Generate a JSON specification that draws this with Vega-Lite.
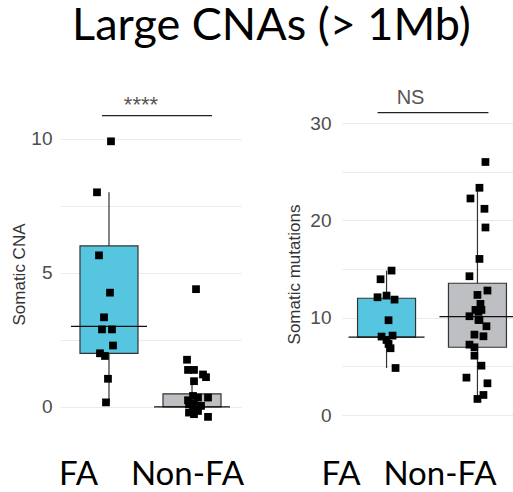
{
  "$schema": "https://vega.github.io/schema/vega-lite/v6.json",
  "padding": {"left": 10, "top": 3, "right": 0, "bottom": 0},
  "background": "white",
  "title": {"text": "Large CNAs (> 1Mb)", "font": "Lato", "fontSize": 45, "fontWeight": "normal", "color": "#000000", "anchor": "middle", "dx": 5, "offset": 39},
  "datasets": {
    "left_pts": [
      {"group": "FA", "value": 9.9, "jitter": 2},
      {"group": "FA", "value": 8.0, "jitter": -12},
      {"group": "FA", "value": 5.65, "jitter": -10},
      {"group": "FA", "value": 4.26, "jitter": 1},
      {"group": "FA", "value": 3.34, "jitter": -5},
      {"group": "FA", "value": 2.89, "jitter": -7},
      {"group": "FA", "value": 2.89, "jitter": 3},
      {"group": "FA", "value": 2.29, "jitter": 4},
      {"group": "FA", "value": 2.0, "jitter": -9},
      {"group": "FA", "value": 1.9, "jitter": -4},
      {"group": "FA", "value": 1.05, "jitter": -1},
      {"group": "FA", "value": 0.17, "jitter": -3},
      {"group": "Non-FA", "value": 4.39, "jitter": 4},
      {"group": "Non-FA", "value": 1.76, "jitter": -5},
      {"group": "Non-FA", "value": 1.38, "jitter": -4},
      {"group": "Non-FA", "value": 1.38, "jitter": 2},
      {"group": "Non-FA", "value": 1.21, "jitter": 11},
      {"group": "Non-FA", "value": 1.11, "jitter": 14},
      {"group": "Non-FA", "value": 0.96, "jitter": 2},
      {"group": "Non-FA", "value": 0.25, "jitter": -4},
      {"group": "Non-FA", "value": 0.41, "jitter": 1},
      {"group": "Non-FA", "value": 0.35, "jitter": 6},
      {"group": "Non-FA", "value": 0.35, "jitter": 16},
      {"group": "Non-FA", "value": 0.1, "jitter": -3},
      {"group": "Non-FA", "value": 0.12, "jitter": 2},
      {"group": "Non-FA", "value": 0.04, "jitter": 9},
      {"group": "Non-FA", "value": -0.08, "jitter": 1},
      {"group": "Non-FA", "value": -0.15, "jitter": 6},
      {"group": "Non-FA", "value": -0.21, "jitter": -3},
      {"group": "Non-FA", "value": -0.27, "jitter": 2},
      {"group": "Non-FA", "value": -0.37, "jitter": 16}
    ],
    "left_box": [
      {"group": "FA", "lower": 0.17, "q1": 2.0, "median": 3.0, "q3": 6.0, "upper": 8.0},
      {"group": "Non-FA", "lower": 0.0, "q1": 0.0, "median": 0.0, "q3": 0.49, "upper": 0.97}
    ],
    "left_sig": [
      {"group": "FA", "group_end": "Non-FA", "y": 10.86, "ty": 11.27, "label": "****"}
    ],
    "right_pts": [
      {"group": "FA", "value": 14.84, "jitter": 5},
      {"group": "FA", "value": 13.95, "jitter": -6},
      {"group": "FA", "value": 12.1, "jitter": -9},
      {"group": "FA", "value": 12.27, "jitter": 0},
      {"group": "FA", "value": 11.86, "jitter": 8},
      {"group": "FA", "value": 9.74, "jitter": 2},
      {"group": "FA", "value": 8.06, "jitter": -5},
      {"group": "FA", "value": 8.16, "jitter": 6},
      {"group": "FA", "value": 7.71, "jitter": 0},
      {"group": "FA", "value": 7.3, "jitter": 2},
      {"group": "FA", "value": 6.86, "jitter": 4},
      {"group": "FA", "value": 4.83, "jitter": 9},
      {"group": "Non-FA", "value": 26.0, "jitter": 8},
      {"group": "Non-FA", "value": 23.35, "jitter": 2},
      {"group": "Non-FA", "value": 22.25, "jitter": -7},
      {"group": "Non-FA", "value": 21.19, "jitter": 7},
      {"group": "Non-FA", "value": 19.27, "jitter": 8},
      {"group": "Non-FA", "value": 16.04, "jitter": 2},
      {"group": "Non-FA", "value": 14.26, "jitter": -8},
      {"group": "Non-FA", "value": 12.79, "jitter": 10},
      {"group": "Non-FA", "value": 12.34, "jitter": 0},
      {"group": "Non-FA", "value": 11.42, "jitter": 3},
      {"group": "Non-FA", "value": 10.8, "jitter": -2},
      {"group": "Non-FA", "value": 10.8, "jitter": 4},
      {"group": "Non-FA", "value": 10.6, "jitter": 1},
      {"group": "Non-FA", "value": 10.15, "jitter": -8},
      {"group": "Non-FA", "value": 9.77, "jitter": 1},
      {"group": "Non-FA", "value": 9.77, "jitter": 2},
      {"group": "Non-FA", "value": 9.12, "jitter": 9},
      {"group": "Non-FA", "value": 8.26, "jitter": -3},
      {"group": "Non-FA", "value": 8.09, "jitter": 6},
      {"group": "Non-FA", "value": 7.23, "jitter": -8},
      {"group": "Non-FA", "value": 6.96, "jitter": -3},
      {"group": "Non-FA", "value": 6.1, "jitter": -3},
      {"group": "Non-FA", "value": 5.07, "jitter": 4},
      {"group": "Non-FA", "value": 3.84, "jitter": -11},
      {"group": "Non-FA", "value": 3.26, "jitter": 10},
      {"group": "Non-FA", "value": 2.06, "jitter": 6},
      {"group": "Non-FA", "value": 1.65, "jitter": 0}
    ],
    "right_box": [
      {"group": "FA", "lower": 4.83, "q1": 8.0, "median": 8.0, "q3": 12.0, "upper": 14.84},
      {"group": "Non-FA", "lower": 1.65, "q1": 6.96, "median": 10.1, "q3": 13.54, "upper": 23.35}
    ],
    "right_sig": [
      {"group": "FA", "group_end": "Non-FA", "y": 31.07, "ty": 32.6, "label": "NS"}
    ]
  },
  "spacing": 41,
  "hconcat": [
    {
      "width": 181,
      "height": 337,
      "layer": [
        {
          "data": {"name": "left_box"},
          "mark": {"type": "rule", "color": "#333333", "strokeWidth": 1.2},
          "encoding": {
            "x": {"field": "group", "type": "nominal", "title": null,
              "scale": {"type": "point", "domain": ["FA", "Non-FA"], "padding": 0.59},
              "axis": {"domain": false, "ticks": false, "grid": false, "labelAngle": 0, "labelFont": "Lato", "labelFontSize": 33, "labelColor": "#000000", "labelPadding": 32,
                "labelOffset": {"condition": {"test": "datum.value === 'FA'", "value": -31}, "value": -5}}},
            "y": {"field": "lower", "type": "quantitative", "title": "Somatic CNA",
              "scale": {"domain": [-0.71, 11.85], "nice": false, "zero": false},
              "axis": {"values": [0, 2.5, 5, 7.5, 10], "labelExpr": "datum.value % 5 === 0 ? datum.label : ''", "titleY": 185}},
            "y2": {"field": "upper"}
          }
        },
        {
          "data": {"name": "left_box"},
          "mark": {"type": "bar", "size": 58, "stroke": "#333333", "strokeWidth": 1.2},
          "encoding": {
            "x": {"field": "group", "type": "nominal", "title": null},
            "y": {"field": "q1", "type": "quantitative", "title": "Somatic CNA"},
            "y2": {"field": "q3"},
            "color": {"field": "group", "type": "nominal", "legend": null, "scale": {"domain": ["FA", "Non-FA"], "range": ["#56C6E0", "#BEBFC2"]}}
          }
        },
        {
          "data": {"name": "left_box"},
          "mark": {"type": "rule", "color": "#111111", "strokeWidth": 1.2, "xOffset": -38, "x2Offset": 38},
          "encoding": {
            "x": {"field": "group", "type": "nominal", "title": null},
            "x2": {"field": "group"},
            "y": {"field": "median", "type": "quantitative", "title": "Somatic CNA"}
          }
        },
        {
          "data": {"name": "left_pts"},
          "mark": {"type": "point", "shape": "square", "filled": true, "color": "#000000", "opacity": 1, "size": 60},
          "encoding": {
            "x": {"field": "group", "type": "nominal", "title": null},
            "xOffset": {"field": "jitter", "type": "quantitative", "scale": {"domain": [-20, 20], "range": [-20, 20]}},
            "y": {"field": "value", "type": "quantitative", "title": "Somatic CNA"}
          }
        },
        {
          "data": {"name": "left_sig"},
          "mark": {"type": "rule", "color": "#222222", "strokeWidth": 1.2, "xOffset": -7, "x2Offset": 20},
          "encoding": {
            "x": {"field": "group", "type": "nominal", "title": null},
            "x2": {"field": "group_end"},
            "y": {"field": "y", "type": "quantitative", "title": "Somatic CNA"}
          }
        },
        {
          "data": {"name": "left_sig"},
          "mark": {"type": "text", "fontSize": 22, "color": "#555555", "dx": 32, "font": "Liberation Sans"},
          "encoding": {
            "x": {"field": "group", "type": "nominal", "title": null},
            "y": {"field": "ty", "type": "quantitative", "title": "Somatic CNA"},
            "text": {"field": "label"}
          }
        }
      ]
    },
    {
      "width": 180,
      "height": 337,
      "layer": [
        {
          "data": {"name": "right_box"},
          "mark": {"type": "rule", "color": "#333333", "strokeWidth": 1.2},
          "encoding": {
            "x": {"field": "group", "type": "nominal", "title": null,
              "scale": {"type": "point", "domain": ["FA", "Non-FA"], "padding": 0.49},
              "axis": {"domain": false, "ticks": false, "grid": false, "labelAngle": 0, "labelFont": "Lato", "labelFontSize": 33, "labelColor": "#000000", "labelPadding": 32,
                "labelOffset": {"condition": {"test": "datum.value === 'FA'", "value": -46}, "value": -38}}},
            "y": {"field": "lower", "type": "quantitative", "title": "Somatic mutations",
              "scale": {"domain": [-1.13, 33.5], "nice": false, "zero": false},
              "axis": {"values": [0, 5, 10, 15, 20, 25, 30], "labelExpr": "datum.value % 10 === 0 ? datum.label : ''", "titleY": 185, "labelPadding": 11, "titlePadding": 6}},
            "y2": {"field": "upper"}
          }
        },
        {
          "data": {"name": "right_box"},
          "mark": {"type": "bar", "size": 58, "stroke": "#333333", "strokeWidth": 1.2},
          "encoding": {
            "x": {"field": "group", "type": "nominal", "title": null},
            "y": {"field": "q1", "type": "quantitative", "title": "Somatic mutations"},
            "y2": {"field": "q3"},
            "color": {"field": "group", "type": "nominal", "legend": null, "scale": {"domain": ["FA", "Non-FA"], "range": ["#56C6E0", "#BEBFC2"]}}
          }
        },
        {
          "data": {"name": "right_box"},
          "mark": {"type": "rule", "color": "#111111", "strokeWidth": 1.2, "xOffset": -38, "x2Offset": 38},
          "encoding": {
            "x": {"field": "group", "type": "nominal", "title": null},
            "x2": {"field": "group"},
            "y": {"field": "median", "type": "quantitative", "title": "Somatic mutations"}
          }
        },
        {
          "data": {"name": "right_pts"},
          "mark": {"type": "point", "shape": "square", "filled": true, "color": "#000000", "opacity": 1, "size": 60},
          "encoding": {
            "x": {"field": "group", "type": "nominal", "title": null},
            "xOffset": {"field": "jitter", "type": "quantitative", "scale": {"domain": [-20, 20], "range": [-20, 20]}},
            "y": {"field": "value", "type": "quantitative", "title": "Somatic mutations"}
          }
        },
        {
          "data": {"name": "right_sig"},
          "mark": {"type": "rule", "color": "#222222", "strokeWidth": 1.2, "xOffset": -9, "x2Offset": 11},
          "encoding": {
            "x": {"field": "group", "type": "nominal", "title": null},
            "x2": {"field": "group_end"},
            "y": {"field": "y", "type": "quantitative", "title": "Somatic mutations"}
          }
        },
        {
          "data": {"name": "right_sig"},
          "mark": {"type": "text", "fontSize": 20, "color": "#555555", "dx": 24, "font": "Liberation Sans"},
          "encoding": {
            "x": {"field": "group", "type": "nominal", "title": null},
            "y": {"field": "ty", "type": "quantitative", "title": "Somatic mutations"},
            "text": {"field": "label"}
          }
        }
      ]
    }
  ],
  "config": {
    "view": {"stroke": null},
    "axis": {"labelFont": "Liberation Sans", "titleFont": "Liberation Sans", "titleFontWeight": "normal", "gridColor": "#EBEBEB", "domain": false, "ticks": false},
    "axisY": {"labelFontSize": 19, "labelColor": "#4D4D4D", "titleFontSize": 17, "titleColor": "#333333", "labelPadding": 8, "titlePadding": 2}
  }
}
